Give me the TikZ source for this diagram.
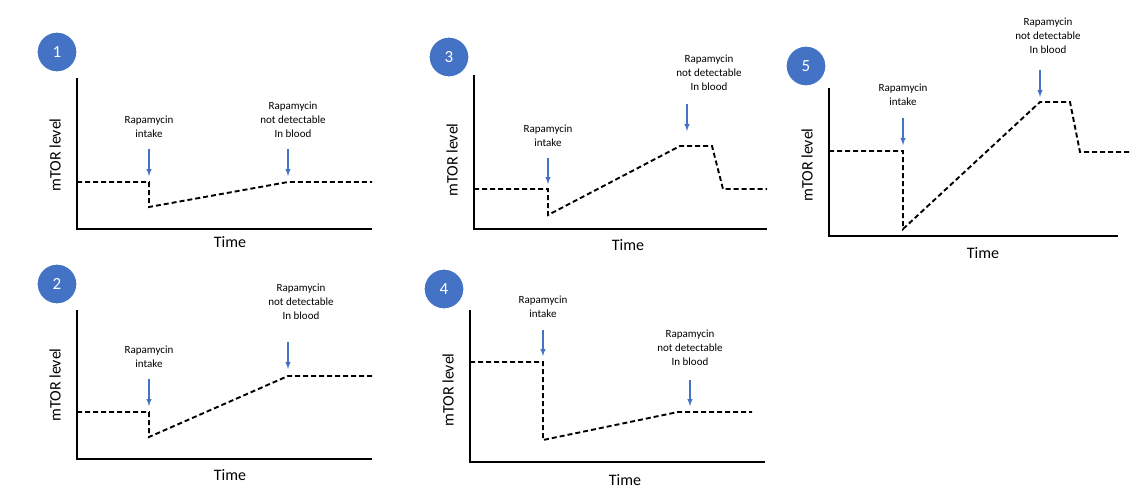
\documentclass[tikz,border=0pt]{standalone}
\usepackage{fontspec}
\setmainfont{Carlito}
\begin{document}
\begin{tikzpicture}[x=1pt,y=-1pt,
 num/.style={circle,fill=blue!55!cyan!60!black,fill=numc,draw=white,line width=1.2pt,minimum size=40pt,inner sep=0,text=white,font=\fontsize{17}{17}\selectfont},
 ax/.style={line width=1.6pt},
 curve/.style={line width=1.9pt,dash pattern=on 5pt off 3pt},
 arr/.style={-latex,draw=arrc,line width=1.4pt},
 lbl/.style={align=center,font=\fontsize{11}{14}\selectfont,inner sep=0},
 tl/.style={font=\fontsize{16}{16}\selectfont},
 yl/.style={font=\fontsize{16}{16}\selectfont,rotate=90}]
\definecolor{numc}{HTML}{4472C4}
\definecolor{arrc}{HTML}{4472C4}
\useasboundingbox (0,0) rectangle (1137,495);
% panel 1
\node[num] (n1) at (57,52) {1};
\coordinate (a1t) at (77,78); \coordinate (a1o) at (77,229); \coordinate (a1r) at (372,229);
\draw[ax] (a1t) -- (a1o) -- (a1r);
\node[yl] (y1) at (55,155) {mTOR level};
\node[tl] (t1) at (230,242) {Time};
\draw[curve] (77,182) -- (149,182) -- (149,207) -- (288,182) -- (372,182);
\node[lbl] (i1) at (149,127) {Rapamycin\\intake};
\node[lbl] (d1) at (293,120) {Rapamycin\\not detectable\\In blood};
\coordinate (i1e) at (149,176); \coordinate (d1e) at (288,176);
\draw[arr] (149,149) -- (i1e); \draw[arr] (288,149) -- (d1e);
% panel 2
\node[num] (n2) at (57,284) {2};
\draw[ax] (77,310) -- (77,459) -- (372,459);
\node[yl] (y2) at (55,385) {mTOR level};
\node[tl] (t2) at (230,475) {Time};
\draw[curve] (77,412) -- (149,412) -- (149,437) -- (288,376) -- (372,376);
\node[lbl] (i2) at (149,357) {Rapamycin\\intake};
\node[lbl] (d2) at (301,302) {Rapamycin\\not detectable\\In blood};
\draw[arr] (149,379) -- (149,406); \draw[arr] (288,342) -- (288,369);
% panel 3
\node[num] (n3) at (449,57) {3};
\draw[ax] (474,75) -- (474,229) -- (767,229);
\node[yl] (y3) at (452,160) {mTOR level};
\node[tl] (t3) at (628,245) {Time};
\draw[curve] (474,189) -- (548,189) -- (548,215) -- (680,146) -- (712,146) -- (723,189) -- (767,189);
\node[lbl] (i3) at (548,136) {Rapamycin\\intake};
\node[lbl] (d3) at (709,73) {Rapamycin\\not detectable\\In blood};
\draw[arr] (548,158) -- (548,184); \draw[arr] (687,104) -- (687,131);
% panel 4
\node[num] (n4) at (444,289) {4};
\draw[ax] (470,310) -- (470,462) -- (765,462);
\node[yl] (y4) at (448,390) {mTOR level};
\node[tl] (t4) at (625,480) {Time};
\draw[curve] (470,362) -- (543,362) -- (543,440) -- (678,412) -- (752,412);
\node[lbl] (i4) at (543,307) {Rapamycin\\intake};
\node[lbl] (d4) at (690,348) {Rapamycin\\not detectable\\In blood};
\draw[arr] (543,330) -- (543,356); \draw[arr] (690,380) -- (690,406);
% panel 5
\node[num] (n5) at (806,66) {5};
\draw[ax] (829,88) -- (829,236) -- (1118,236);
\node[yl] (y5) at (807,165) {mTOR level};
\node[tl] (t5) at (983,253) {Time};
\draw[curve] (829,151) -- (903,151) -- (903,229) -- (1040,102) -- (1070,102) -- (1080,152) -- (1130,152);
\node[lbl] (i5) at (903,95) {Rapamycin\\intake};
\node[lbl] (d5) at (1048,36) {Rapamycin\\not detectable\\In blood};
\draw[arr] (903,118) -- (903,145); \draw[arr] (1040,70) -- (1040,97);
\end{tikzpicture}
\end{document}
